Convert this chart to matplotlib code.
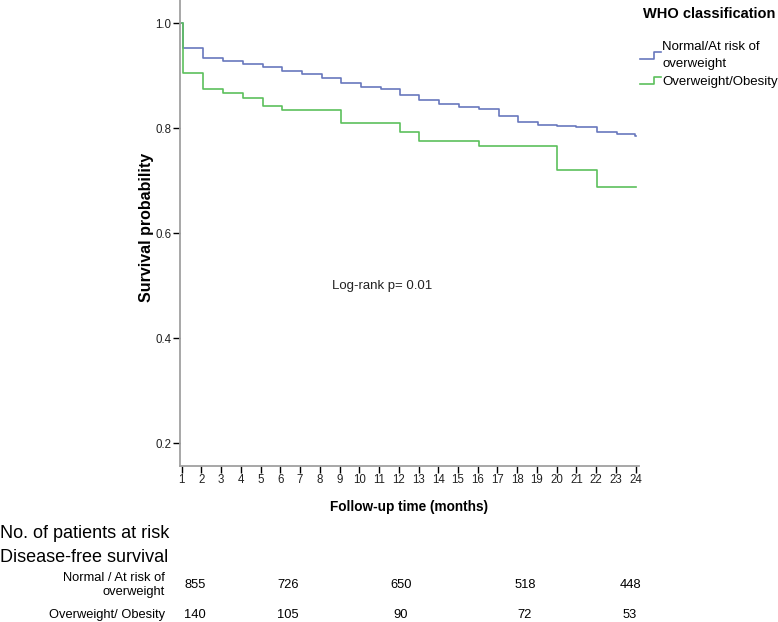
import numpy as np
import matplotlib
matplotlib.use('Agg')
import matplotlib.pyplot as plt
from matplotlib.legend_handler import HandlerBase
from matplotlib.lines import Line2D

# Kaplan-Meier step curves (time of step, survival after step)
normal_times = [1, 1.07, 2.09, 3.1, 4.09, 5.1, 6.08, 7.08, 8.09, 9.05, 10.07,
                11.08, 12.06, 13.04, 14.05, 15.06, 16.04, 17.06, 18.05, 19.07,
                20.03, 21.0, 22.02, 23.04, 23.95, 24.0]
normal_surv = [1.0, 0.952, 0.934, 0.928, 0.922, 0.916, 0.908, 0.903, 0.895,
               0.886, 0.878, 0.875, 0.864, 0.853, 0.845, 0.840, 0.836, 0.823,
               0.812, 0.806, 0.804, 0.802, 0.792, 0.788, 0.785, 0.785]

obese_times = [1, 1.07, 2.09, 3.1, 4.09, 5.1, 6.08, 9.05, 12.06, 13.04, 16.04,
               20.03, 22.02, 24.0]
obese_surv = [1.0, 0.905, 0.874, 0.867, 0.858, 0.842, 0.835, 0.810, 0.792,
              0.775, 0.765, 0.721, 0.687, 0.687]

series_names = ['Normal/At risk of\noverweight', 'Overweight/Obesity']
series_colors = ['#6878bd', '#5cc05c']

x_ticks = list(range(1, 25))
y_ticks = [0.2, 0.4, 0.6, 0.8, 1.0]

# numbers at risk
risk_rows = ['Normal / At risk of\noverweight', 'Overweight/ Obesity']
risk_normal = [855, 726, 650, 518, 448]
risk_obese = [140, 105, 90, 72, 53]

ARIAL = ['Liberation Sans', 'DejaVu Sans']
W, H = 778, 622


class StepHandler(HandlerBase):
    """Legend key drawn as a small step, like SPSS does"""

    def create_artists(self, legend, orig_handle, xdescent, ydescent,
                       width, height, fontsize, trans):
        xs = np.array([0, 0.65, 0.65, 1.0]) * width - xdescent
        ys = np.array([0.1, 0.1, 0.9, 0.9]) * height - ydescent
        line = Line2D(xs, ys, color=orig_handle.get_color(), lw=1.2)
        line.set_transform(trans)
        return [line]


fig = plt.figure(figsize=(W / 100, H / 100), dpi=100)
ax = fig.add_axes([180 / W, 1 - 465.7 / H, (639 - 180) / W, 465.7 / H])

lines = []
for t, s, c in zip([normal_times, obese_times], [normal_surv, obese_surv], series_colors):
    ln, = ax.step(t, s, where='post', color=c, lw=1.2)
    lines.append(ln)

ax.set_xlim(0.914, 24.17)
ax.set_ylim(0.157, 1.044)
ax.set_xticks(x_ticks)
ax.set_xticklabels([str(v) for v in x_ticks], family=ARIAL, fontsize=8.3, color='#222222')
ax.set_yticks(y_ticks)
ax.set_yticklabels(['{:.1f}'.format(v) for v in y_ticks], family=ARIAL, fontsize=8.3,
                   color='#222222')
ax.tick_params(direction='out', length=5, width=1, color='black', pad=1)

for side in ['top', 'right']:
    ax.spines[side].set_visible(False)
for side in ['left', 'bottom']:
    ax.spines[side].set_color('#a0a0a0')
    ax.spines[side].set_linewidth(1.3)

ax.set_xlabel('Follow-up time (months)', family=ARIAL, fontweight='bold',
              fontsize=9.8)
ax.xaxis.set_label_coords((409 - 180) / 459, -(507 - 465.7) / 465.7)
ax.set_ylabel('Survival probability', family=ARIAL, fontweight='bold',
              fontsize=11.5)
ax.yaxis.set_label_coords((146 - 180) / 459, (465.7 - 227) / 465.7)
ax.xaxis.label.set_va('center')
ax.yaxis.label.set_va('center')

ax.text(0.332, 0.386, 'Log-rank p= 0.01', transform=ax.transAxes,
        family=ARIAL, fontsize=9.5, va='center', ha='left', color='#222222')

fig.text(643 / W, 1 - 14 / H, 'WHO classification', family=ARIAL, fontweight='bold',
         fontsize=10.5, va='center', ha='left')
leg = fig.legend(lines, series_names, handler_map={Line2D: StepHandler()},
                 loc='upper left', bbox_to_anchor=(640 / W, 1 - 41 / H),
                 frameon=False, prop={'family': ARIAL, 'size': 9.5},
                 handlelength=1.6, handletextpad=0.1, labelspacing=0.4,
                 borderaxespad=0, borderpad=0)
for t in leg.get_texts():
    t.set_linespacing(1.6)

# at-risk table
fig.text(0, 1 - 533 / H, 'No. of patients at risk', family=ARIAL, fontsize=13,
         va='center', ha='left')
fig.text(0, 1 - 557 / H, 'Disease-free survival', family=ARIAL, fontsize=13,
         va='center', ha='left')

row_y = [1 - 585 / H, 1 - 615 / H]
col_x = [195 / W, 288 / W, 401 / W, 525 / W, 630 / W]
for label, counts, y in zip(risk_rows, [risk_normal, risk_obese], row_y):
    fig.text(165 / W, y, label, family=ARIAL, fontsize=9.3, ha='right', va='center',
             multialignment='right', linespacing=1.3)
    for xpos, n in zip(col_x, counts):
        fig.text(xpos, y, str(n), family=ARIAL, fontsize=9.3, ha='center', va='center')

fig.savefig('out.png', dpi=100)
